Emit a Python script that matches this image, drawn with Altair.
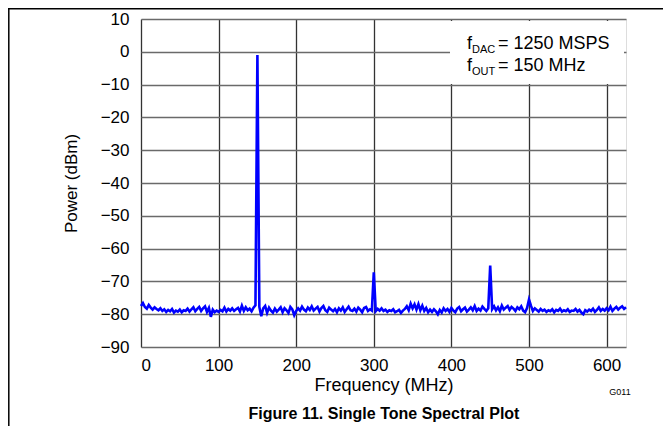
import altair as alt
import pandas as pd

# Spectrum: power (dBm) sampled every 2.5 MHz from 0 to 625 MHz
p_000_147 = [
    -77.5, -76.6, -77.8, -78.3, -77.2, -78.0, -78.6, -77.9, -78.4, -78.8,
    -78.2, -79.0, -78.5, -79.3, -78.7, -79.1, -78.4, -79.5, -78.9, -79.2,
    -78.6, -79.4, -78.8, -79.0, -78.3, -79.2, -78.5, -77.9, -79.1, -78.4,
    -77.8, -79.0, -78.2, -77.6, -79.3, -78.1, -80.8, -78.6, -79.4, -78.9,
    -79.3, -78.7, -79.1, -78.0, -79.2, -78.4, -78.9, -78.2, -79.0, -78.5,
    -78.1, -79.2, -77.4, -79.0, -77.9, -78.8, -78.3, -79.1, -78.0, -77.3,
]
p_150_297 = [
    -1.0, -77.8, -80.6, -78.2, -77.5, -79.6, -78.0, -78.9, -79.5, -78.3,
    -79.2, -78.6, -77.9, -79.4, -78.2, -78.8, -79.6, -77.8, -78.5, -80.3,
    -79.0, -78.2, -78.9, -77.7, -78.6, -79.1, -78.0, -78.7, -77.6, -78.9,
    -78.3, -77.8, -79.2, -78.1, -77.5, -78.8, -79.3, -78.0, -78.6, -79.1,
    -78.4, -79.4, -78.2, -78.9, -77.9, -79.3, -78.5, -77.7, -78.8, -79.0,
    -78.3, -79.2, -78.0, -78.6, -79.4, -78.1, -77.8, -79.0, -78.5, -78.9,
]
p_300_447 = [
    -67.2, -79.1, -78.4, -78.9, -78.2, -79.0, -78.6, -79.3, -78.8, -79.0,
    -78.5, -79.4, -79.1, -78.7, -79.6, -78.9, -78.4, -77.6, -78.8, -76.8,
    -78.2, -77.0, -78.6, -76.9, -78.8, -77.4, -79.0, -78.1, -79.4, -78.6,
    -79.3, -78.5, -79.1, -80.0, -78.7, -79.5, -78.2, -79.0, -78.4, -79.3,
    -78.1, -78.9, -79.4, -78.3, -77.8, -79.1, -78.5, -78.0, -79.2, -78.6,
    -77.9, -78.8, -77.5, -79.0, -78.3, -78.9, -77.7, -78.4, -79.0, -78.2,
]
p_450_625 = [
    -65.2, -78.5, -77.6, -78.8, -77.9, -79.1, -77.4, -78.6, -78.0, -77.5,
    -78.7, -77.8, -78.3, -79.0, -77.9, -78.5, -77.6, -78.9, -79.4, -78.1,
    -75.5, -77.4, -79.0, -78.2, -78.7, -79.2, -78.4, -79.0, -78.6, -79.3,
    -78.8, -79.1, -78.5, -79.4, -78.7, -79.0, -78.3, -79.2, -78.8, -79.1,
    -78.5, -79.3, -78.9, -79.0, -78.4, -79.2, -78.7, -79.5, -80.0, -78.8,
    -79.2, -78.6, -79.0, -78.3, -79.3, -78.7, -77.9, -79.0, -78.4, -78.9,
    -78.2, -78.8, -77.7, -79.0, -78.3, -77.8, -78.6, -78.0, -77.6, -78.4,
    -77.9,
]
power = p_000_147 + p_150_297 + p_300_447 + p_450_625
freq_step = 2.5
freq = [i * freq_step for i in range(len(power))]

x_ticks = [0, 100, 200, 300, 400, 500, 600]
y_ticks = [10, 0, -10, -20, -30, -40, -50, -60, -70, -80, -90]

df = pd.DataFrame({"freq": freq, "power": power})
one = pd.DataFrame({"k": [0]})

FONT = "Liberation Sans"
W, H = 485, 328

line = alt.Chart(df).mark_line(color="#0000ff", strokeWidth=2.6).encode(
    x=alt.X("freq:Q",
            scale=alt.Scale(domain=[0, 625], nice=False, zero=False),
            axis=alt.Axis(values=x_ticks, title="Frequency (MHz)", format="d",
                          grid=True, gridColor="#333333", gridWidth=1.3,
                          ticks=False, domain=False, labelPadding=10,
                          labelFontSize=17, labelFont=FONT, labelColor="black",
                          titleFont=FONT, titleFontSize=18, titleFontWeight="normal",
                          titleColor="black", titlePadding=3)),
    y=alt.Y("power:Q",
            scale=alt.Scale(domain=[-90, 10], nice=False, zero=False),
            axis=alt.Axis(values=y_ticks, title="Power (dBm)", format="d",
                          grid=True, gridColor="#6a6a6a", gridWidth=1.3,
                          ticks=False, domain=False, labelPadding=12,
                          labelFontSize=17, labelFont=FONT, labelColor="black",
                          titleFont=FONT, titleFontSize=17, titleFontWeight="normal",
                          titleColor="black", titlePadding=20)),
)

box = alt.Chart(one).mark_rect(color="white").encode(
    x=alt.value(309), x2=alt.value(W - 2), y=alt.value(2), y2=alt.value(65)
)

def txt(s, x, y, size, weight="normal", align="left"):
    return alt.Chart(one).mark_text(text=s, font=FONT, fontSize=size, fontWeight=weight,
                                    align=align, baseline="alphabetic", color="black").encode(
        x=alt.value(x), y=alt.value(y))

legend = [
    txt("f", 326, 30, 18), txt("DAC", 331, 34, 11), txt("= 1250 MSPS", 357, 30, 18),
    txt("f", 326, 52, 18), txt("OUT", 331, 56, 11), txt("= 150 MHz", 357, 52, 18),
]

title = txt("Figure 11. Single Tone Spectral Plot", 243, 400, 16, "bold", "center")
gcode = txt("G011", 479, 376, 9, "normal", "center")

top_rule = alt.Chart(one).mark_rule(color="black", strokeWidth=1.5).encode(
    x=alt.value(-133), x2=alt.value(W + 37), y=alt.value(-10.2))
left_rule = alt.Chart(one).mark_rule(color="black", strokeWidth=1.5).encode(
    x=alt.value(-132.2), y=alt.value(-11), y2=alt.value(H + 79))

chart = alt.layer(line, box, *legend, title, gcode, top_rule, left_rule).properties(
    width=W, height=H,
    autosize=alt.AutoSizeParams(type="none"),
    padding={"left": 133, "top": 11, "right": 37, "bottom": 79},
).configure_view(stroke="black", strokeWidth=3).configure(background="white")

chart.save("out.html", embed_options={"renderer": "svg", "actions": False})
